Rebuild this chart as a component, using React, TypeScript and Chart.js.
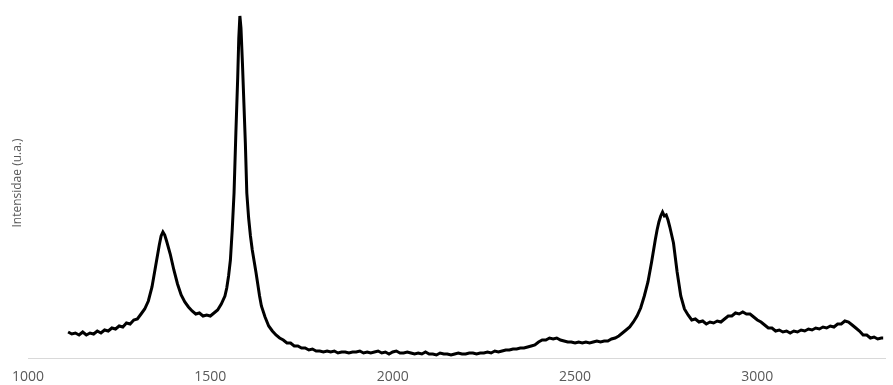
import React, { useEffect, useRef } from "react";
import { Chart, registerables } from "chart.js";

Chart.register(...registerables);

const wavenumbers: number[] = [
  1110, 1120, 1130, 1140, 1150, 1160, 1170, 1180, 1190, 1200,
  1210, 1220, 1230, 1240, 1250, 1260, 1270, 1280, 1290, 1300,
  1310, 1320, 1330, 1340, 1350, 1360, 1365, 1370, 1375, 1380,
  1390, 1400, 1410, 1420, 1430, 1440, 1450, 1460, 1470, 1480,
  1490, 1500, 1510, 1520, 1530, 1540, 1545, 1550, 1555, 1560,
  1565, 1570, 1575, 1578, 1581, 1584, 1588, 1592, 1596, 1600,
  1605, 1610, 1615, 1620, 1625, 1630, 1635, 1640, 1650, 1660,
  1670, 1680, 1690, 1700, 1710, 1720, 1730, 1740, 1750, 1760,
  1770, 1780, 1790, 1800, 1810, 1820, 1830, 1840, 1850, 1860,
  1870, 1880, 1890, 1900, 1910, 1920, 1930, 1940, 1950, 1960,
  1970, 1980, 1990, 2000, 2010, 2020, 2030, 2040, 2050, 2060,
  2070, 2080, 2090, 2100, 2110, 2120, 2130, 2140, 2150, 2160,
  2170, 2180, 2190, 2200, 2210, 2220, 2230, 2240, 2250, 2260,
  2270, 2280, 2290, 2300, 2310, 2320, 2330, 2340, 2350, 2360,
  2370, 2380, 2390, 2400, 2410, 2420, 2430, 2440, 2450, 2460,
  2470, 2480, 2490, 2500, 2510, 2520, 2530, 2540, 2550, 2560,
  2570, 2580, 2590, 2600, 2610, 2620, 2630, 2640, 2650, 2660,
  2670, 2680, 2690, 2700, 2710, 2720, 2725, 2730, 2735, 2740,
  2745, 2750, 2755, 2760, 2770, 2780, 2790, 2800, 2810, 2820,
  2830, 2840, 2850, 2860, 2870, 2880, 2890, 2900, 2910, 2920,
  2930, 2940, 2950, 2960, 2970, 2980, 2990, 3000, 3010, 3020,
  3030, 3040, 3050, 3060, 3070, 3080, 3090, 3100, 3110, 3120,
  3130, 3140, 3150, 3160, 3170, 3180, 3190, 3200, 3210, 3220,
  3230, 3240, 3250, 3260, 3270, 3280, 3290, 3300, 3310, 3320,
  3330, 3340, 3345,
];

const intensity: number[] = [
  26, 24, 25, 23, 26, 23, 25, 24, 27, 25,
  28, 27, 30, 29, 32, 31, 35, 34, 38, 39,
  44, 49, 57, 71, 92, 113, 122, 126, 123, 117,
  104, 88, 74, 63, 56, 51, 47, 44, 45, 42,
  43, 42, 45, 48, 54, 62, 70, 82, 98, 128,
  165, 225, 280, 320, 342, 330, 295, 255, 215, 165,
  140, 122, 108, 97, 86, 74, 62, 52, 41, 32,
  27, 23, 20, 18, 15, 15, 12, 12, 10, 10,
  8, 9, 7, 7, 6, 7, 6, 7, 5, 6,
  6, 5, 6, 6, 7, 5, 6, 5, 6, 7,
  5, 6, 4, 6, 7, 5, 5, 6, 5, 4,
  5, 4, 6, 4, 4, 3, 5, 4, 4, 3,
  4, 5, 4, 4, 5, 5, 4, 5, 5, 6,
  5, 7, 6, 7, 8, 8, 9, 9, 10, 10,
  11, 12, 13, 16, 18, 18, 20, 19, 20, 18,
  17, 16, 16, 15, 16, 15, 16, 15, 16, 17,
  16, 17, 17, 19, 20, 22, 25, 28, 31, 36,
  42, 50, 62, 76, 96, 118, 128, 136, 142, 146,
  142, 143, 138, 131, 115, 86, 62, 49, 43, 38,
  39, 36, 37, 34, 36, 35, 37, 36, 39, 42,
  42, 45, 44, 46, 44, 44, 41, 38, 36, 33,
  30, 30, 27, 28, 26, 27, 25, 27, 26, 28,
  27, 29, 28, 30, 29, 31, 30, 32, 31, 34,
  34, 37, 36, 33, 30, 27, 23, 23, 20, 21,
  19, 20, 20,
];

const xTicks: number[] = [1000, 1500, 2000, 2500, 3000];
const yTitle = "Intensidae (u.a.)";

export default function App() {
  const ref = useRef<HTMLCanvasElement | null>(null);

  useEffect(() => {
    if (!ref.current) return;
    const points = wavenumbers.map((x, i) => ({ x, y: intensity[i] }));
    const chart = new Chart(ref.current, {
      type: "line",
      data: {
        datasets: [
          {
            data: points,
            borderColor: "#000000",
            borderWidth: 3,
            pointRadius: 0,
            tension: 0,
            fill: false,
          },
        ],
      },
      options: {
        animation: false,
        responsive: false,
        events: [],
        layout: { padding: { top: 8, right: 8, left: 0, bottom: 0 } },
        plugins: { legend: { display: false }, tooltip: { enabled: false } },
        scales: {
          x: {
            type: "linear",
            min: 1000,
            max: 3350,
            grid: { display: false },
            border: { display: true, color: "#d9d9d9", width: 1 },
            afterBuildTicks: (scale: any) => {
              scale.ticks = xTicks.map((v) => ({ value: v }));
            },
            afterFit: (scale: any) => {
              scale.height = 27;
            },
            ticks: {
              color: "#595959",
              font: { family: "'Open Sans', sans-serif", size: 14 },
              padding: 3,
              maxRotation: 0,
              autoSkip: false,
              callback: (v: any) => String(v),
            },
          },
          y: {
            type: "linear",
            min: 0,
            max: 350,
            grid: { display: false },
            border: { display: false },
            ticks: { display: false },
            afterFit: (scale: any) => {
              scale.width = 28;
            },
            title: {
              display: true,
              text: yTitle,
              color: "#595959",
              font: { family: "'Open Sans', sans-serif", size: 12 },
              padding: { top: 10, bottom: 0 },
            },
          },
        },
      },
    });
    return () => chart.destroy();
  }, []);

  return (
    <div style={{ position: "fixed", left: 0, top: 0, width: 893, height: 385, background: "#fff" }}>
      <canvas ref={ref} width={893} height={385} />
    </div>
  );
}
